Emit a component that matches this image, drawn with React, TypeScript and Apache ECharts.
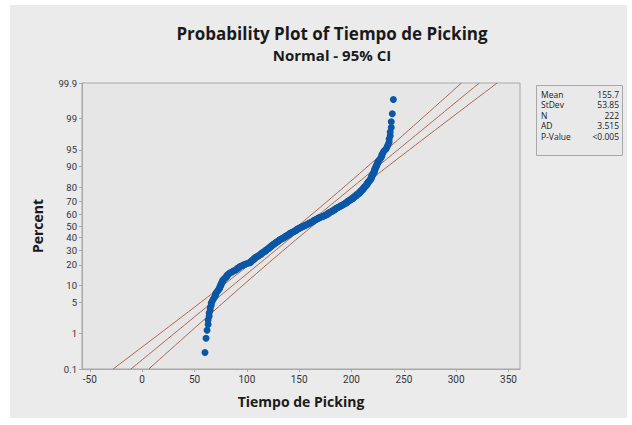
import React, { useEffect, useRef } from "react";
import * as echarts from "echarts";

const TITLE = "Probability Plot of Tiempo de Picking";
const SUBTITLE = "Normal - 95% CI";
const X_NAME = "Tiempo de Picking";
const Y_NAME = "Percent";
const X_TICKS = [-50, 0, 50, 100, 150, 200, 250, 300, 350];
const PERCENT_TICKS = [0.1, 1, 5, 10, 20, 30, 40, 50, 60, 70, 80, 90, 95, 99, 99.9];
const STAT_LABELS = ["Mean", "StDev", "N", "AD", "P-Value"];
const STAT_VALUES = ["155.7", "53.85", "222", "3.515", "<0.005"];
const MEAN = 155.7;
const STDEV = 53.85;
const N = 222;

const TIEMPO = [
  60, 61, 62, 63, 63, 64, 64, 65, 65, 66, 66, 67, 68,
  69, 70, 70, 71, 72, 73,
  74, 74, 75, 75, 76, 76, 77, 77, 78,
  79, 80, 81, 81, 82, 83, 84,
  86, 87, 89, 90, 91, 92, 93, 94, 96, 97, 99, 101, 103,
  104, 104, 105, 106, 107, 107, 108, 109, 110, 111, 112, 113,
  114, 114, 115, 116, 117, 118, 118, 119, 120, 121, 121, 122,
  123, 123, 124, 125, 125, 126, 127, 128, 128, 129, 130, 131, 131, 132,
  133, 134, 135, 136, 137, 137, 138, 139, 140, 141, 141, 142, 143, 144, 145, 146, 147, 147, 148, 149, 150, 151, 152, 153,
  154, 155, 156, 157, 158, 159, 160, 161, 162, 163, 164, 164, 165, 166, 167, 168, 169, 170, 172,
  173, 174, 175, 176, 177, 178, 178, 179, 180, 181, 182, 183, 184, 184, 185, 186, 187, 188, 189,
  190, 191, 192, 193, 194, 195, 196, 196, 197, 198, 199, 200,
  201, 202, 202, 203, 204, 205, 205, 206, 207, 208,
  208, 209, 209, 210, 211, 211, 212, 212, 213, 214, 214, 215, 215, 216, 216, 217, 218,
  218, 219, 219, 219, 220, 220, 221, 221, 222, 222, 222, 223, 223, 224, 224, 225, 225,
  226, 227, 228, 229, 229, 230,
  231, 233, 234, 235, 236, 236, 237, 237, 238, 238, 239, 240,
];

function invNorm(p: number): number {
  const a = [-3.969683028665376e1, 2.209460984245205e2, -2.759285104469687e2, 1.38357751867269e2, -3.066479806614716e1, 2.506628277459239];
  const b = [-5.447609879822406e1, 1.615858368580409e2, -1.556989798598866e2, 6.680131188771972e1, -1.328068155288572e1];
  const c = [-7.784894002430293e-3, -3.223964580411365e-1, -2.400758277161838, -2.549732539343734, 4.374664141464968, 2.938163982698783];
  const d = [7.784695709041462e-3, 3.224671290700398e-1, 2.445134137142996, 3.754408661907416];
  const pl = 0.02425;
  if (p < pl) {
    const q = Math.sqrt(-2 * Math.log(p));
    return (((((c[0] * q + c[1]) * q + c[2]) * q + c[3]) * q + c[4]) * q + c[5]) / ((((d[0] * q + d[1]) * q + d[2]) * q + d[3]) * q + 1);
  }
  if (p > 1 - pl) {
    const q = Math.sqrt(-2 * Math.log(1 - p));
    return -(((((c[0] * q + c[1]) * q + c[2]) * q + c[3]) * q + c[4]) * q + c[5]) / ((((d[0] * q + d[1]) * q + d[2]) * q + d[3]) * q + 1);
  }
  const q = p - 0.5;
  const r = q * q;
  return ((((((a[0] * r + a[1]) * r + a[2]) * r + a[3]) * r + a[4]) * r + a[5]) * q) / (((((b[0] * r + b[1]) * r + b[2]) * r + b[3]) * r + b[4]) * r + 1);
}

const FONT = "'Open Sans', 'Noto Sans', sans-serif";
const TICK_FONT = "Roboto, 'Open Sans', sans-serif";
const LINE_COLOR = "#ad6650";
const POINT_COLOR = "#0b57a6";

export default function App() {
  const ref = useRef<HTMLDivElement>(null);
  useEffect(() => {
    if (!ref.current) return;
    const chart = echarts.init(ref.current, undefined, { renderer: "svg" });
    const zMin = invNorm(0.001);
    const zMax = invNorm(0.999);
    const tickZ = PERCENT_TICKS.map((p) => invNorm(p / 100));
    const n = TIEMPO.length;
    const points = TIEMPO.map((v, i) => [v, invNorm((i + 1 - 0.3) / (n + 0.4))]);
    const zGrid: number[] = [];
    for (let k = 0; k <= 60; k++) zGrid.push(zMin + ((zMax - zMin) * k) / 60);
    const half = (z: number) => 1.96 * STDEV * Math.sqrt(1 / N + (z * z) / (2 * N));
    const fit = zGrid.map((z) => [MEAN + STDEV * z, z]);
    const lower = zGrid.map((z) => [MEAN + STDEV * z - half(z), z]);
    const upper = zGrid.map((z) => [MEAN + STDEV * z + half(z), z]);
    const lineSeries = (data: number[][]) => ({
      type: "line",
      data,
      showSymbol: false,
      symbol: "none",
      lineStyle: { color: LINE_COLOR, width: 1 },
      silent: true,
      z: 1,
    });
    const rowY = [94, 104.5, 115, 125.5, 136];
    chart.setOption({
      animation: false,
      backgroundColor: "#ffffff",
      textStyle: { fontFamily: FONT },
      title: [
        {
          text: TITLE,
          left: 327,
          textAlign: "center",
          top: 20,
          textStyle: { fontFamily: FONT, fontSize: 17, fontWeight: "bold", color: "#1a1a1a" },
        },
        {
          text: SUBTITLE,
          left: 327,
          textAlign: "center",
          top: 42,
          textStyle: { fontFamily: FONT, fontSize: 15, fontWeight: "bold", color: "#1a1a1a" },
        },
      ],
      graphic: [
        {
          type: "rect",
          z: -10,
          silent: true,
          shape: { x: 10, y: 5, width: 617, height: 413 },
          style: { fill: "#ebebeb" },
        },
        {
          type: "group",
          children: [
            {
              type: "rect",
              shape: { x: 536.5, y: 85.5, width: 86, height: 70 },
              style: { fill: "#e9e9e9", stroke: "#a8a8a8", lineWidth: 1 },
            },
            ...STAT_LABELS.map((t, i) => ({
              type: "text",
              x: 541,
              y: rowY[i],
              style: { text: t, fill: "#222", font: `8.5px ${FONT}`, textAlign: "left", textVerticalAlign: "middle" },
            })),
            ...STAT_VALUES.map((t, i) => ({
              type: "text",
              x: 619,
              y: rowY[i],
              style: { text: t, fill: "#222", font: `8.5px ${FONT}`, textAlign: "right", textVerticalAlign: "middle" },
            })),
          ],
        },
      ],
      grid: {
        left: 82,
        top: 83,
        width: 438,
        height: 286,
        show: true,
        backgroundColor: "#e6e6e6",
        borderColor: "#a8a8a8",
        borderWidth: 1,
        containLabel: false,
      },
      xAxis: {
        type: "value",
        min: -57.5,
        max: 361,
        name: X_NAME,
        nameLocation: "middle",
        nameGap: 25,
        nameTextStyle: { fontFamily: FONT, fontSize: 14, fontWeight: "bold", color: "#1a1a1a" },
        axisLine: { show: true, onZero: false, lineStyle: { color: "#a8a8a8" } },
        axisTick: { show: true, length: 3, lineStyle: { color: "#a8a8a8" }, customValues: X_TICKS },
        axisLabel: { fontFamily: TICK_FONT, fontSize: 10, color: "#333", margin: 5, customValues: X_TICKS },
        splitLine: { show: false },
      },
      yAxis: {
        type: "value",
        min: zMin - 1e-6,
        max: zMax + 1e-6,
        name: Y_NAME,
        nameLocation: "middle",
        nameGap: 38,
        nameRotate: 90,
        nameTextStyle: { fontFamily: FONT, fontSize: 14, fontWeight: "bold", color: "#1a1a1a" },
        axisLine: { show: true, onZero: false, lineStyle: { color: "#a8a8a8" } },
        axisTick: { show: true, length: 3, lineStyle: { color: "#a8a8a8" }, customValues: tickZ },
        axisLabel: {
          fontFamily: TICK_FONT,
          fontSize: 9.5,
          lineHeight: 9.5,
          color: "#333",
          margin: 5,
          showMinLabel: true,
          showMaxLabel: true,
          customValues: tickZ,
          formatter: (v: number) => {
            let best = 0;
            tickZ.forEach((z, i) => {
              if (Math.abs(z - v) < Math.abs(tickZ[best] - v)) best = i;
            });
            return String(PERCENT_TICKS[best]);
          },
        },
        splitLine: { show: false },
      },
      series: [
        lineSeries(lower),
        lineSeries(fit),
        lineSeries(upper),
        {
          type: "scatter",
          data: points,
          symbol: "circle",
          symbolSize: 7,
          itemStyle: { color: POINT_COLOR, opacity: 1 },
          z: 3,
        },
      ],
    });
    return () => chart.dispose();
  }, []);
  return (
    <div
      ref={ref}
      style={{ position: "fixed", left: 0, top: 0, width: 632, height: 425 }}
    />
  );
}
